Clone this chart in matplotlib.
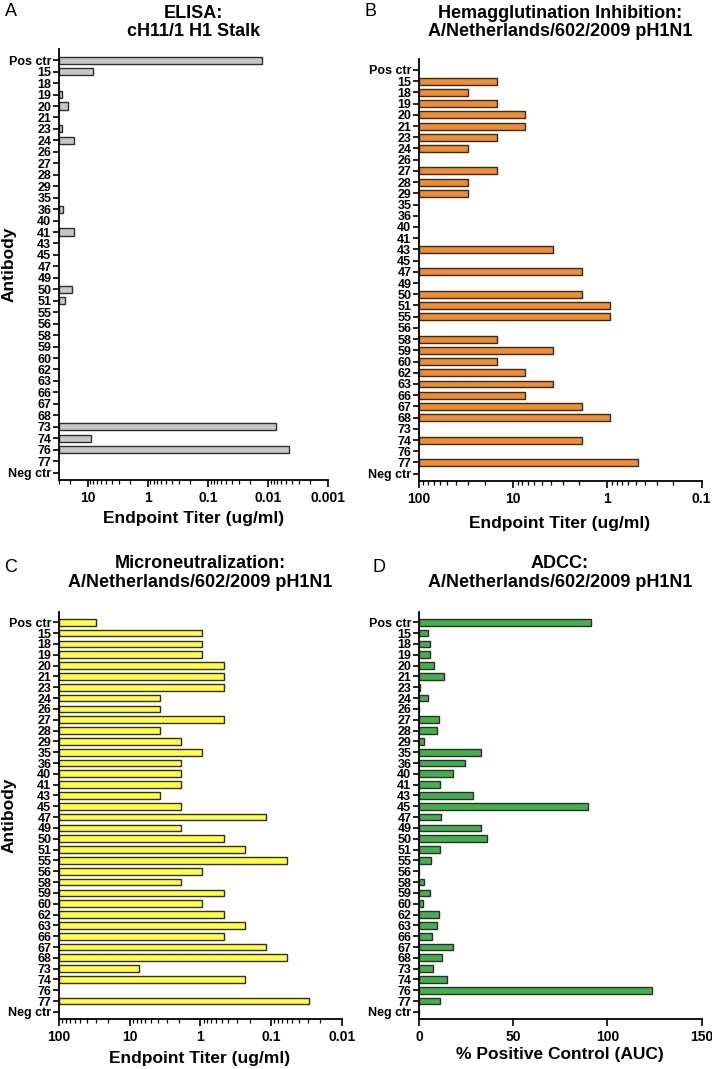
import numpy as np
import matplotlib
matplotlib.use("Agg")
import matplotlib.pyplot as plt
from matplotlib.ticker import LogLocator, NullFormatter

plt.rcParams['font.family'] = ['Liberation Sans', 'DejaVu Sans']
plt.rcParams['font.weight'] = 'bold'

nan = np.nan

antibodies = ['Pos ctr', '15', '18', '19', '20', '21', '23', '24', '26', '27', '28', '29',
              '35', '36', '40', '41', '43', '45', '47', '49', '50', '51', '55', '56', '58',
              '59', '60', '62', '63', '66', '67', '68', '73', '74', '76', '77', 'Neg ctr']

# ELISA endpoint titer (ug/ml)
elisa = [0.0126, 8.2, nan, 27, 21, nan, 26.5, 17, nan, nan, nan, nan,
         nan, 26, nan, 17, nan, nan, nan, nan, 18, 24, nan, nan, nan,
         nan, nan, nan, nan, nan, nan, nan, 0.0073, 8.8, 0.0045, nan, nan]

# Hemagglutination inhibition (ug/ml)
hai = [nan, 15, 30, 15, 7.5, 7.5, 15, 30, nan, 15, 30, 30,
       nan, nan, nan, nan, 3.75, nan, 1.875, nan, 1.875, 0.9375, 0.9375, nan, 15,
       3.75, 15, 7.5, 3.75, 7.5, 1.875, 0.9375, nan, 1.875, nan, 0.469, nan]

# Microneutralization (ug/ml)
mn = [30, 0.9375, 0.9375, 0.9375, 0.469, 0.469, 0.469, 3.75, 3.75, 0.469, 3.75, 1.875,
      0.9375, 1.875, 1.875, 1.875, 3.75, 1.875, 0.117, 1.875, 0.469, 0.234, 0.0586, 0.9375, 1.875,
      0.469, 0.9375, 0.469, 0.234, 0.469, 0.117, 0.0586, 7.5, 0.234, nan, 0.0293, nan]

# ADCC, % positive control (AUC)
adcc = [91.1, 4.8, 6.0, 5.7, 8.0, 13.1, 0.7, 5.0, 0, 10.4, 9.4, 2.5,
        33.1, 24.4, 17.9, 11.0, 28.5, 89.7, 11.5, 32.7, 36.1, 11.0, 6.4, 0, 2.7,
        5.8, 2.3, 10.6, 9.6, 6.7, 17.9, 12.4, 7.3, 15.0, 123.5, 11.1, 0]

W, H = 712, 1069
fig = plt.figure(figsize=(W / 100, H / 100), dpi=100)


def add_axes(x0, x1, ytop, ybot):
    return fig.add_axes([x0 / W, 1 - ybot / H, (x1 - x0) / W, (ybot - ytop) / H])


def style(ax):
    ax.set_yticks(range(len(antibodies)))
    ax.set_yticklabels(antibodies, fontsize=9)
    ax.set_ylim(len(antibodies) - 0.35, -0.98)
    for s in ['top', 'right']:
        ax.spines[s].set_visible(False)
    for s in ['left', 'bottom']:
        ax.spines[s].set_linewidth(1.3)
    ax.tick_params(axis='y', length=4, width=1.2, pad=1.5)
    ax.tick_params(axis='x', which='major', length=5, width=1.2, labelsize=10, pad=3)
    ax.tick_params(axis='x', which='minor', length=3, width=0.9)


def log_panel(ax, values, base, low, color, ticks, ticklabels):
    idx = [i for i, v in enumerate(values) if not np.isnan(v)]
    vals = np.array([values[i] for i in idx])
    ax.barh(idx, vals - base, left=base, height=0.62, color=color,
            edgecolor='#2e2e2e', linewidth=1)
    ax.set_xscale('log')
    ax.set_xlim(base, low)
    ax.set_xticks(ticks, ticklabels)
    ax.xaxis.set_minor_locator(LogLocator(base=10, subs=np.arange(2, 10), numticks=30))
    ax.xaxis.set_minor_formatter(NullFormatter())
    style(ax)


# A: ELISA
axA = add_axes(59, 328, 49, 480)
log_panel(axA, elisa, 30, 0.001, '#c6c6c6',
          [10, 1, 0.1, 0.01, 0.001], ['10', '1', '0.1', '0.01', '0.001'])

# B: HAI
axB = add_axes(419, 701.7, 59, 481)
log_panel(axB, hai, 100, 0.1, '#f28b2a',
          [100, 10, 1, 0.1], ['100', '10', '1', '0.1'])

# C: Microneutralization
axC = add_axes(59, 341.7, 611.7, 1019)
log_panel(axC, mn, 100, 0.01, '#ffff3c',
          [100, 10, 1, 0.1, 0.01], ['100', '10', '1', '0.1', '0.01'])

# D: ADCC
axD = add_axes(419, 701.7, 611.7, 1019)
axD.barh(range(len(adcc)), adcc, height=0.62, color='#42b04b',
         edgecolor='#2e2e2e', linewidth=1)
axD.set_xlim(0, 150)
axD.set_xticks([0, 50, 100, 150])
style(axD)

# titles, letters, axis labels (pixel positions)
def ftext(x, y, s, **kw):
    fig.text(x / W, 1 - y / H, s, **kw)


ftext(193.5, 22.5, 'ELISA:\ncH11/1 H1 Stalk', ha='center', va='center', fontsize=13, linespacing=1.15)
ftext(560, 22.5, 'Hemagglutination Inhibition:\nA/Netherlands/602/2009 pH1N1',
      ha='center', va='center', fontsize=13, linespacing=1.15)
ftext(200, 573, 'Microneutralization:\nA/Netherlands/602/2009 pH1N1',
      ha='center', va='center', fontsize=13, linespacing=1.15)
ftext(560, 573, 'ADCC:\nA/Netherlands/602/2009 pH1N1',
      ha='center', va='center', fontsize=13, linespacing=1.15)

for x, y, s in [(11, 12, 'A'), (371, 12, 'B'), (11, 567, 'C'), (379, 567, 'D')]:
    ftext(x, y, s, ha='center', va='center', fontsize=13, fontweight='normal')

ftext(9, 264.5, 'Antibody', rotation=90, ha='center', va='center', fontsize=12.5)
ftext(9, 815, 'Antibody', rotation=90, ha='center', va='center', fontsize=12.5)

ftext(193.5, 518, 'Endpoint Titer (ug/ml)', ha='center', va='center', fontsize=12.5)
ftext(560, 523, 'Endpoint Titer (ug/ml)', ha='center', va='center', fontsize=12.5)
ftext(200, 1058, 'Endpoint Titer (ug/ml)', ha='center', va='center', fontsize=12.5)
ftext(560, 1055, '% Positive Control (AUC)', ha='center', va='center', fontsize=12.5)

fig.savefig('out.png', dpi=100)
